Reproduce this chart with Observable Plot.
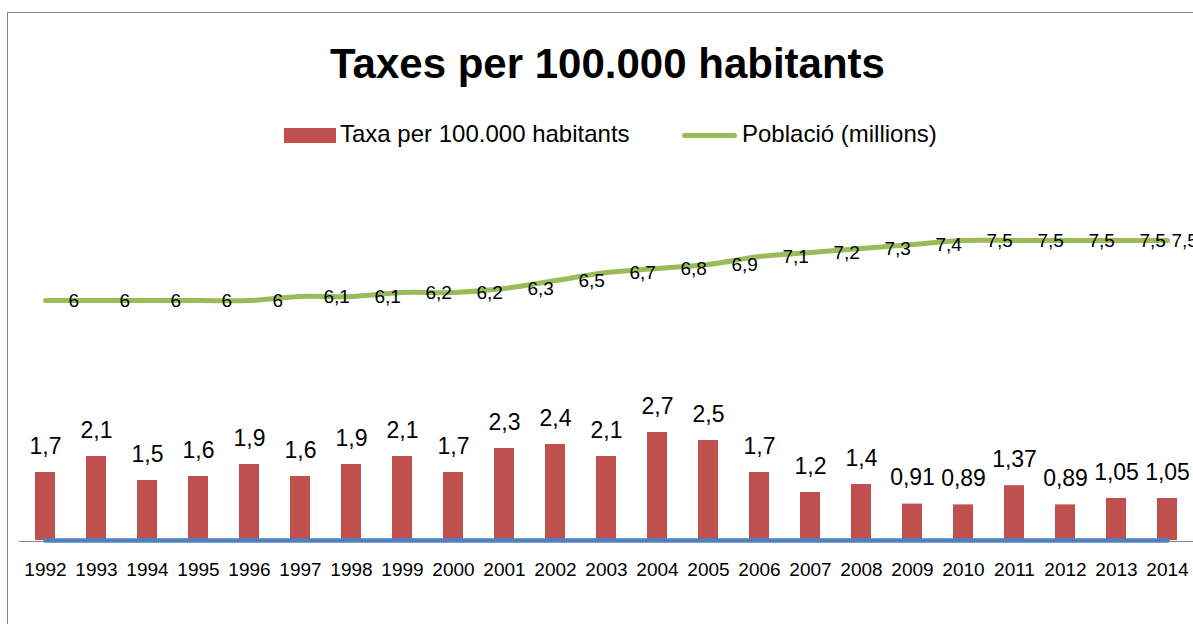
<!DOCTYPE html>
<html>
<head>
<meta charset="utf-8">
<script src="https://cdn.jsdelivr.net/npm/d3@7"></script>
<script src="https://cdn.jsdelivr.net/npm/@observablehq/plot@0.6"></script>
<style>
html, body { margin: 0; padding: 0; background: #fff; overflow: hidden; }
#wrap { position: relative; width: 1193px; height: 624px; font-family: "Liberation Sans", Arial, sans-serif; color: #000; overflow: hidden; }
#title { position: absolute; left: 0; width: 1215px; top: 42.7px; text-align: center; font-weight: bold; font-size: 42px; line-height: 42px; white-space: nowrap; }
.leg-text { position: absolute; top: 122.2px; font-size: 24px; line-height: 24px; white-space: nowrap; }
#sw1 { position: absolute; left: 284px; top: 128px; width: 52px; height: 15px; }
#sw2 { position: absolute; left: 682px; top: 132.5px; width: 55px; height: 5px; border-radius: 2.5px; }
#chart { position: absolute; left: 0; top: 160px; }
#frame { position: absolute; left: 7px; top: 12px; width: 1300px; height: 700px; border-left: 1.5px solid #868686; border-top: 1.5px solid #868686; pointer-events: none; }
</style>
</head>
<body>
<div id="wrap">
  <div id="title"></div>
  <div id="sw1"></div><div class="leg-text" id="lt1" style="left:340px"></div>
  <div id="sw2"></div><div class="leg-text" id="lt2" style="left:742px"></div>
  <div id="chart"></div>
  <div id="frame"></div>
</div>
<script>
const titleText = "Taxes per 100.000 habitants";
const seriesNames = ["Taxa per 100.000 habitants", "Població (millions)"];
const seriesColors = ["#C0504D", "#9BBB59"];
const baseColor = "#4F81BD";

const years = ["1992","1993","1994","1995","1996","1997","1998","1999","2000","2001","2002","2003","2004","2005","2006","2007","2008","2009","2010","2011","2012","2013","2014"];
const rates = [1.7, 2.1, 1.5, 1.6, 1.9, 1.6, 1.9, 2.1, 1.7, 2.3, 2.4, 2.1, 2.7, 2.5, 1.7, 1.2, 1.4, 0.91, 0.89, 1.37, 0.89, 1.05, 1.05];
const population = [6, 6, 6, 6, 6, 6.1, 6.1, 6.2, 6.2, 6.3, 6.5, 6.7, 6.8, 6.9, 7.1, 7.2, 7.3, 7.4, 7.5, 7.5, 7.5, 7.5, 7.5];
const baseSeries = [0, 0, 0, 0, 0, 0, 0, 0, 0, 0, 0, 0, 0, 0, 0, 0, 0, 0, 0, 0, 0, 0, 0];

const rows = years.map((y, i) => ({year: y, rate: rates[i], pop: population[i], base: baseSeries[i]}));
const fmt = v => String(v).replace(".", ",");

document.getElementById("title").textContent = titleText;
document.getElementById("lt1").textContent = seriesNames[0];
document.getElementById("lt2").textContent = seriesNames[1];
document.getElementById("sw1").style.background = seriesColors[0];
document.getElementById("sw2").style.background = seriesColors[1];

const font = "'Liberation Sans', Arial, sans-serif";
const chart = Plot.plot({
  width: 1193,
  height: 464,
  marginLeft: 19,
  marginRight: 0,
  marginTop: 20,
  marginBottom: 84,
  style: {background: "transparent", fontFamily: font, fontSize: "19px", color: "#000", overflow: "visible"},
  x: {type: "band", domain: years, paddingInner: 0.6, paddingOuter: 0.3, tickSize: 0, tickPadding: 22, label: null},
  y: {domain: [0, 9], axis: null},
  marks: [
    Plot.ruleY([0], {stroke: "#868686", strokeWidth: 1.2, dy: 1}),
    Plot.barY(rows, {x: "year", y: "rate", fill: seriesColors[0]}),
    Plot.line(rows, {x: "year", y: "base", stroke: baseColor, strokeWidth: 4.5}),
    Plot.line(rows, {x: "year", y: "pop", stroke: seriesColors[1], strokeWidth: 5, curve: "catmull-rom"}),
    Plot.text(rows, {x: "year", y: "rate", text: d => fmt(d.rate), dy: -26, fontSize: 23, fill: "#000"}),
    Plot.text(rows.slice(0, -1), {x: "year", y: "pop", text: d => fmt(d.pop), textAnchor: "start", dx: 23, fontSize: 19, fill: "#000"}),
    Plot.text(rows.slice(-1), {x: "year", y: "pop", text: d => fmt(d.pop), textAnchor: "start", dx: 4, fontSize: 19, fill: "#000"})
  ]
});
document.getElementById("chart").appendChild(chart);
</script>
</body>
</html>
